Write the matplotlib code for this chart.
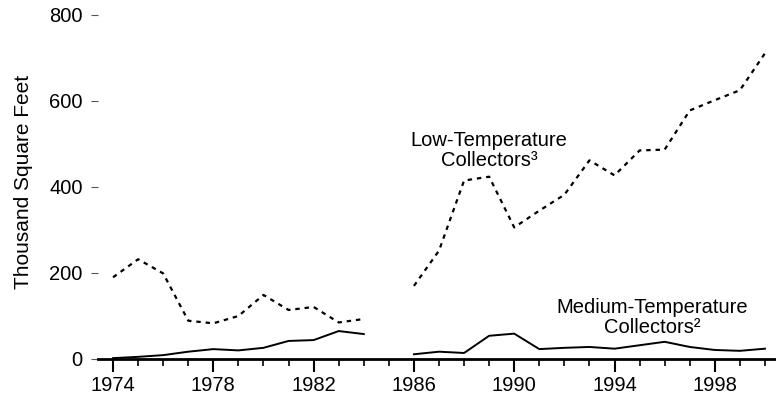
import matplotlib
matplotlib.use('Agg')
import matplotlib.pyplot as plt
import numpy as np

plt.rcParams['font.family'] = ['Liberation Sans', 'DejaVu Sans']

years_a = [1974, 1975, 1976, 1977, 1978, 1979, 1980, 1981, 1982, 1983, 1984]
low_a = [190, 232, 199, 89, 83, 100, 149, 114, 121, 85, 93]
med_a = [2, 5, 9, 17, 23, 20, 26, 42, 44, 65, 58]

years_b = [1986, 1987, 1988, 1989, 1990, 1991, 1992, 1993, 1994, 1995,
           1996, 1997, 1998, 1999, 2000]
low_b = [170, 252, 415, 424, 306, 345, 382, 462, 427, 485, 487, 578, 602, 625, 711]
med_b = [11, 17, 14, 54, 59, 23, 26, 28, 24, 32, 40, 28, 21, 19, 24]

major_years = [1974, 1978, 1982, 1986, 1990, 1994, 1998]
y_ticks = [0, 200, 400, 600, 800]

fig = plt.figure(figsize=(7.76, 3.99), dpi=100)
ax = fig.add_axes([98 / 776, 1 - 359 / 399, 1 - 98 / 776, (359 - 15) / 399])

dots = (0, (2, 2.2))
ax.plot(years_a, low_a, color='black', lw=1.6, linestyle=dots)
ax.plot(years_b, low_b, color='black', lw=1.6, linestyle=dots)
ax.plot(years_a, med_a, color='black', lw=1.4)
ax.plot(years_b, med_b, color='black', lw=1.4)

ax.set_xlim(1973.4, 2000.44)
ax.set_ylim(0, 800)

for s in ['top', 'right', 'left']:
    ax.spines[s].set_visible(False)
ax.spines['bottom'].set_linewidth(2)

ax.set_xticks(major_years)
ax.set_xticks(np.arange(1974, 2001), minor=True)
ax.tick_params(axis='x', which='major', length=9, width=1.5, direction='out',
               labelsize=14.5, pad=3)
ax.tick_params(axis='x', which='minor', length=5, width=1.2, direction='out')
ax.set_yticks(y_ticks)
ax.tick_params(axis='y', length=5, width=0.8, color='#555555', labelsize=14.5, pad=6)

ax.set_ylabel('Thousand Square Feet', fontsize=15)
ax.yaxis.set_label_coords(-65 / 678, (359 - 182) / 344)

ax.text(1989.0, 485, 'Low-Temperature\nCollectors³', ha='center', va='center',
        fontsize=14.5, linespacing=1.05)
ax.text(1995.5, 97, 'Medium-Temperature\nCollectors²', ha='center', va='center',
        fontsize=14.5, linespacing=1.05)

fig.savefig('out.png', dpi=100)
